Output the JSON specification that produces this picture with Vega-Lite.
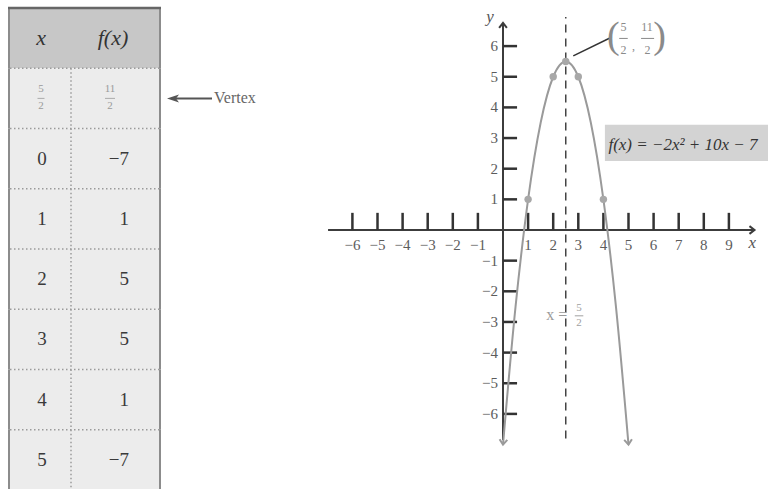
{
  "$schema": "https://vega.github.io/schema/vega-lite/v6.json",
  "padding": 0,
  "spacing": 0,
  "bounds": "flush",
  "background": "white",
  "config": {"view": {"stroke": null}, "text": {"font": "Liberation Serif"}},
  "datasets": {
    "table": [
      {"x": "x", "fx": "f(x)", "kind": "header"},
      {"x": "5/2", "fx": "11/2", "kind": "vertex", "xn": "5", "xd": "2", "fn": "11", "fd": "2"},
      {"x": "0", "fx": "−7", "kind": "value"},
      {"x": "1", "fx": "1", "kind": "value"},
      {"x": "2", "fx": "5", "kind": "value"},
      {"x": "3", "fx": "5", "kind": "value"},
      {"x": "4", "fx": "1", "kind": "value"},
      {"x": "5", "fx": "−7", "kind": "value"}
    ],
    "curve": [
      {"x": 0, "y": -7}, {"x": 0.5, "y": -2.5}, {"x": 1, "y": 1}, {"x": 1.5, "y": 3.5},
      {"x": 2, "y": 5}, {"x": 2.5, "y": 5.5}, {"x": 3, "y": 5}, {"x": 3.5, "y": 3.5},
      {"x": 4, "y": 1}, {"x": 4.5, "y": -2.5}, {"x": 5, "y": -7}
    ],
    "points": [
      {"x": 1, "y": 1}, {"x": 2, "y": 5}, {"x": 2.5, "y": 5.5}, {"x": 3, "y": 5}, {"x": 4, "y": 1}
    ],
    "xticks": [
      {"v": -6}, {"v": -5}, {"v": -4}, {"v": -3}, {"v": -2}, {"v": -1},
      {"v": 1}, {"v": 2}, {"v": 3}, {"v": 4}, {"v": 5}, {"v": 6}, {"v": 7}, {"v": 8}, {"v": 9}
    ],
    "yticks": [
      {"v": -6}, {"v": -5}, {"v": -4}, {"v": -3}, {"v": -2}, {"v": -1},
      {"v": 1}, {"v": 2}, {"v": 3}, {"v": 4}, {"v": 5}, {"v": 6}
    ],
    "notes": [
      {"equation": "f(x) = −2x² + 10x − 7", "vx_num": "5", "vx_den": "2", "vy_num": "11", "vy_den": "2", "xname": "x", "yname": "y", "sym": "x =", "sym_num": "5", "sym_den": "2"}
    ]
  },
  "hconcat": [
    {
      "width": 300,
      "height": 489,
      "data": {"name": "table"},
      "layer": [
        {
          "mark": {"type": "rect"},
          "encoding": {
            "x": {"datum": 9, "type": "quantitative", "scale": {"domain": [0, 300], "nice": false, "zero": false}, "axis": null},
            "x2": {"datum": 160},
            "y": {"field": "x", "type": "nominal", "scale": {"domain": ["x", "5/2", "0", "1", "2", "3", "4", "5"], "range": [8, 490], "paddingInner": 0, "paddingOuter": 0}, "axis": null},
            "color": {"field": "kind", "type": "nominal", "scale": {"domain": ["header", "vertex", "value"], "range": ["#c7c7c7", "#ececec", "#ececec"]}, "legend": null}
          }
        },
        {
          "transform": [{"filter": "datum.kind != 'header'"}],
          "mark": {"type": "rule", "color": "#9a9a9a", "strokeWidth": 1.5, "strokeDash": [1.5, 2.5]},
          "encoding": {
            "x": {"datum": 10, "type": "quantitative", "scale": {"domain": [0, 300], "nice": false, "zero": false}, "axis": null},
            "x2": {"datum": 159},
            "y": {"field": "x", "type": "nominal", "bandPosition": 0, "scale": {"domain": ["x", "5/2", "0", "1", "2", "3", "4", "5"], "range": [8, 490], "paddingInner": 0, "paddingOuter": 0}, "axis": null}
          }
        },
        {
          "transform": [{"filter": "datum.kind != 'header'"}],
          "mark": {"type": "rule", "color": "#9a9a9a", "strokeWidth": 1.5, "strokeDash": [1.5, 2.5]},
          "encoding": {
            "x": {"datum": 71, "type": "quantitative", "scale": {"domain": [0, 300], "nice": false, "zero": false}, "axis": null},
            "y": {"field": "x", "type": "nominal", "bandPosition": 0, "scale": {"domain": ["x", "5/2", "0", "1", "2", "3", "4", "5"], "range": [8, 490], "paddingInner": 0, "paddingOuter": 0}, "axis": null},
            "y2": {"field": "x", "bandPosition": 1}
          }
        },
        {
          "mark": {"type": "rule", "color": "#8c8c8c", "strokeWidth": 2},
          "encoding": {
            "x": {"datum": 9, "type": "quantitative", "scale": {"domain": [0, 300], "nice": false, "zero": false}, "axis": null},
            "y": {"field": "x", "type": "nominal", "bandPosition": 0, "scale": {"domain": ["x", "5/2", "0", "1", "2", "3", "4", "5"], "range": [8, 490], "paddingInner": 0, "paddingOuter": 0}, "axis": null},
            "y2": {"field": "x", "bandPosition": 1}
          }
        },
        {
          "mark": {"type": "rule", "color": "#8c8c8c", "strokeWidth": 2},
          "encoding": {
            "x": {"datum": 160, "type": "quantitative", "scale": {"domain": [0, 300], "nice": false, "zero": false}, "axis": null},
            "y": {"field": "x", "type": "nominal", "bandPosition": 0, "scale": {"domain": ["x", "5/2", "0", "1", "2", "3", "4", "5"], "range": [8, 490], "paddingInner": 0, "paddingOuter": 0}, "axis": null},
            "y2": {"field": "x", "bandPosition": 1}
          }
        },
        {
          "transform": [{"filter": "datum.kind == 'header'"}],
          "mark": {"type": "rule", "color": "#666666", "strokeWidth": 2.5},
          "encoding": {
            "x": {"datum": 8, "type": "quantitative", "scale": {"domain": [0, 300], "nice": false, "zero": false}, "axis": null},
            "x2": {"datum": 161},
            "y": {"field": "x", "type": "nominal", "bandPosition": 0, "scale": {"domain": ["x", "5/2", "0", "1", "2", "3", "4", "5"], "range": [8, 490], "paddingInner": 0, "paddingOuter": 0}, "axis": null}
          }
        },
        {
          "transform": [{"filter": "datum.kind == 'header'"}],
          "mark": {"type": "text", "fontSize": 22, "fontStyle": "italic", "color": "#333333"},
          "encoding": {
            "x": {"datum": 41, "type": "quantitative", "scale": {"domain": [0, 300], "nice": false, "zero": false}, "axis": null},
            "y": {"field": "x", "type": "nominal", "scale": {"domain": ["x", "5/2", "0", "1", "2", "3", "4", "5"], "range": [8, 490], "paddingInner": 0, "paddingOuter": 0}, "axis": null},
            "text": {"field": "x"}
          }
        },
        {
          "transform": [{"filter": "datum.kind == 'header'"}],
          "mark": {"type": "text", "fontSize": 22, "fontStyle": "italic", "color": "#333333"},
          "encoding": {
            "x": {"datum": 113, "type": "quantitative", "scale": {"domain": [0, 300], "nice": false, "zero": false}, "axis": null},
            "y": {"field": "x", "type": "nominal", "scale": {"domain": ["x", "5/2", "0", "1", "2", "3", "4", "5"], "range": [8, 490], "paddingInner": 0, "paddingOuter": 0}, "axis": null},
            "text": {"field": "fx"}
          }
        },
        {
          "transform": [{"filter": "datum.kind == 'value'"}],
          "mark": {"type": "text", "fontSize": 19, "color": "#3a3a3a"},
          "encoding": {
            "x": {"datum": 42, "type": "quantitative", "scale": {"domain": [0, 300], "nice": false, "zero": false}, "axis": null},
            "y": {"field": "x", "type": "nominal", "scale": {"domain": ["x", "5/2", "0", "1", "2", "3", "4", "5"], "range": [8, 490], "paddingInner": 0, "paddingOuter": 0}, "axis": null},
            "text": {"field": "x"}
          }
        },
        {
          "transform": [{"filter": "datum.kind == 'value'"}],
          "mark": {"type": "text", "fontSize": 19, "color": "#3a3a3a", "align": "right"},
          "encoding": {
            "x": {"datum": 129, "type": "quantitative", "scale": {"domain": [0, 300], "nice": false, "zero": false}, "axis": null},
            "y": {"field": "x", "type": "nominal", "scale": {"domain": ["x", "5/2", "0", "1", "2", "3", "4", "5"], "range": [8, 490], "paddingInner": 0, "paddingOuter": 0}, "axis": null},
            "text": {"field": "fx"}
          }
        },
        {
          "transform": [{"filter": "datum.kind == 'vertex'"}],
          "mark": {"type": "text", "fontSize": 11, "color": "#9a9a9a", "dy": -9},
          "encoding": {
            "x": {"datum": 41, "type": "quantitative", "scale": {"domain": [0, 300], "nice": false, "zero": false}, "axis": null},
            "y": {"field": "x", "type": "nominal", "scale": {"domain": ["x", "5/2", "0", "1", "2", "3", "4", "5"], "range": [8, 490], "paddingInner": 0, "paddingOuter": 0}, "axis": null},
            "text": {"field": "xn"}
          }
        },
        {
          "transform": [{"filter": "datum.kind == 'vertex'"}],
          "mark": {"type": "text", "fontSize": 11, "color": "#9a9a9a", "dy": 8},
          "encoding": {
            "x": {"datum": 41, "type": "quantitative", "scale": {"domain": [0, 300], "nice": false, "zero": false}, "axis": null},
            "y": {"field": "x", "type": "nominal", "scale": {"domain": ["x", "5/2", "0", "1", "2", "3", "4", "5"], "range": [8, 490], "paddingInner": 0, "paddingOuter": 0}, "axis": null},
            "text": {"field": "xd"}
          }
        },
        {
          "transform": [{"filter": "datum.kind == 'vertex'"}],
          "mark": {"type": "text", "fontSize": 11, "color": "#9a9a9a", "dy": -9},
          "encoding": {
            "x": {"datum": 110, "type": "quantitative", "scale": {"domain": [0, 300], "nice": false, "zero": false}, "axis": null},
            "y": {"field": "x", "type": "nominal", "scale": {"domain": ["x", "5/2", "0", "1", "2", "3", "4", "5"], "range": [8, 490], "paddingInner": 0, "paddingOuter": 0}, "axis": null},
            "text": {"field": "fn"}
          }
        },
        {
          "transform": [{"filter": "datum.kind == 'vertex'"}],
          "mark": {"type": "text", "fontSize": 11, "color": "#9a9a9a", "dy": 8},
          "encoding": {
            "x": {"datum": 110, "type": "quantitative", "scale": {"domain": [0, 300], "nice": false, "zero": false}, "axis": null},
            "y": {"field": "x", "type": "nominal", "scale": {"domain": ["x", "5/2", "0", "1", "2", "3", "4", "5"], "range": [8, 490], "paddingInner": 0, "paddingOuter": 0}, "axis": null},
            "text": {"field": "fd"}
          }
        },
        {
          "transform": [{"filter": "datum.kind == 'vertex'"}],
          "mark": {"type": "rule", "color": "#aaaaaa", "strokeWidth": 1},
          "encoding": {
            "x": {"datum": 37.5, "type": "quantitative", "scale": {"domain": [0, 300], "nice": false, "zero": false}, "axis": null},
            "x2": {"datum": 44.5},
            "y": {"field": "x", "type": "nominal", "bandPosition": 0.5, "scale": {"domain": ["x", "5/2", "0", "1", "2", "3", "4", "5"], "range": [8, 490], "paddingInner": 0, "paddingOuter": 0}, "axis": null}
          }
        },
        {
          "transform": [{"filter": "datum.kind == 'vertex'"}],
          "mark": {"type": "rule", "color": "#aaaaaa", "strokeWidth": 1},
          "encoding": {
            "x": {"datum": 105, "type": "quantitative", "scale": {"domain": [0, 300], "nice": false, "zero": false}, "axis": null},
            "x2": {"datum": 115},
            "y": {"field": "x", "type": "nominal", "bandPosition": 0.5, "scale": {"domain": ["x", "5/2", "0", "1", "2", "3", "4", "5"], "range": [8, 490], "paddingInner": 0, "paddingOuter": 0}, "axis": null}
          }
        },
        {
          "transform": [{"filter": "datum.kind == 'vertex'"}],
          "mark": {"type": "rule", "color": "#555555", "strokeWidth": 2},
          "encoding": {
            "x": {"datum": 174, "type": "quantitative", "scale": {"domain": [0, 300], "nice": false, "zero": false}, "axis": null},
            "x2": {"datum": 212},
            "y": {"field": "x", "type": "nominal", "bandPosition": 0.5, "scale": {"domain": ["x", "5/2", "0", "1", "2", "3", "4", "5"], "range": [8, 490], "paddingInner": 0, "paddingOuter": 0}, "axis": null}
          }
        },
        {
          "transform": [{"filter": "datum.kind == 'vertex'"}],
          "mark": {"type": "point", "shape": "M 1.2 -0.8 L -1.2 0 L 1.2 0.8 L 0.6 0 Z", "filled": true, "color": "#555555", "size": 100, "opacity": 1},
          "encoding": {
            "x": {"datum": 173, "type": "quantitative", "scale": {"domain": [0, 300], "nice": false, "zero": false}, "axis": null},
            "y": {"field": "x", "type": "nominal", "scale": {"domain": ["x", "5/2", "0", "1", "2", "3", "4", "5"], "range": [8, 490], "paddingInner": 0, "paddingOuter": 0}, "axis": null}
          }
        },
        {
          "transform": [{"filter": "datum.kind == 'vertex'"}],
          "mark": {"type": "text", "fontSize": 16, "color": "#666666", "align": "left"},
          "encoding": {
            "x": {"datum": 214, "type": "quantitative", "scale": {"domain": [0, 300], "nice": false, "zero": false}, "axis": null},
            "y": {"field": "x", "type": "nominal", "scale": {"domain": ["x", "5/2", "0", "1", "2", "3", "4", "5"], "range": [8, 490], "paddingInner": 0, "paddingOuter": 0}, "axis": null},
            "text": {"value": "Vertex"}
          }
        }
      ]
    },
    {
      "width": 468,
      "height": 489,
      "data": {"name": "notes"},
      "layer": [
        {
          "mark": {"type": "rect", "color": "#d3d3d3"},
          "encoding": {
            "x": {"datum": 4.06, "type": "quantitative", "scale": {"domain": [-8.088, 10.558], "nice": false, "zero": false}, "axis": null},
            "x2": {"datum": 10.558},
            "y": {"datum": 3.43, "type": "quantitative", "scale": {"domain": [-8.45, 7.504], "nice": false, "zero": false}, "axis": null},
            "y2": {"datum": 2.25}
          }
        },
        {
          "mark": {"type": "text", "align": "left", "fontSize": 17, "fontStyle": "italic", "color": "#333333"},
          "encoding": {
            "x": {"datum": 4.2, "type": "quantitative"},
            "y": {"datum": 2.76, "type": "quantitative"},
            "text": {"field": "equation"}
          }
        },
        {
          "mark": {"type": "rule", "color": "#3c3c3c", "strokeWidth": 2},
          "encoding": {
            "x": {"datum": -6.97, "type": "quantitative"},
            "x2": {"datum": 9.98},
            "y": {"datum": 0, "type": "quantitative"}
          }
        },
        {
          "mark": {"type": "rule", "color": "#3c3c3c", "strokeWidth": 2},
          "encoding": {
            "x": {"datum": 0, "type": "quantitative"},
            "y": {"datum": -6.85, "type": "quantitative"},
            "y2": {"datum": 6.72}
          }
        },
        {
          "mark": {"type": "point", "shape": "M -1.3 -1 L 0 0 L -1.3 1", "filled": false, "color": "#3c3c3c", "strokeWidth": 2, "size": 60, "opacity": 1},
          "encoding": {
            "x": {"datum": 10.02, "type": "quantitative"},
            "y": {"datum": 0, "type": "quantitative"}
          }
        },
        {
          "mark": {"type": "point", "shape": "M -1 1.3 L 0 0 L 1 1.3", "filled": false, "color": "#3c3c3c", "strokeWidth": 2, "size": 60, "opacity": 1},
          "encoding": {
            "x": {"datum": 0, "type": "quantitative"},
            "y": {"datum": 6.76, "type": "quantitative"}
          }
        },
        {
          "data": {"name": "xticks"},
          "mark": {"type": "rule", "color": "#333333", "strokeWidth": 2.5},
          "encoding": {
            "x": {"field": "v", "type": "quantitative"},
            "y": {"datum": 0, "type": "quantitative"},
            "y2": {"datum": 0.56}
          }
        },
        {
          "data": {"name": "yticks"},
          "mark": {"type": "rule", "color": "#333333", "strokeWidth": 2.5},
          "encoding": {
            "y": {"field": "v", "type": "quantitative"},
            "x": {"datum": 0, "type": "quantitative"},
            "x2": {"datum": 0.56}
          }
        },
        {
          "data": {"name": "xticks"},
          "mark": {"type": "text", "fontSize": 15, "color": "#5c5c5c"},
          "encoding": {
            "x": {"field": "v", "type": "quantitative"},
            "y": {"datum": -0.5, "type": "quantitative"},
            "text": {"field": "v", "type": "quantitative", "format": "d"}
          }
        },
        {
          "data": {"name": "yticks"},
          "mark": {"type": "text", "fontSize": 15, "color": "#5c5c5c", "align": "right"},
          "encoding": {
            "y": {"field": "v", "type": "quantitative"},
            "x": {"datum": -0.2, "type": "quantitative"},
            "text": {"field": "v", "type": "quantitative", "format": "d"}
          }
        },
        {
          "mark": {"type": "text", "fontSize": 17, "fontStyle": "italic", "color": "#555555"},
          "encoding": {
            "x": {"datum": -0.52, "type": "quantitative"},
            "y": {"datum": 6.95, "type": "quantitative"},
            "text": {"field": "yname"}
          }
        },
        {
          "mark": {"type": "text", "fontSize": 17, "fontStyle": "italic", "color": "#555555"},
          "encoding": {
            "x": {"datum": 9.93, "type": "quantitative"},
            "y": {"datum": -0.44, "type": "quantitative"},
            "text": {"field": "xname"}
          }
        },
        {
          "mark": {"type": "rule", "color": "#444444", "strokeWidth": 1.5, "strokeDash": [8, 6]},
          "encoding": {
            "x": {"datum": 2.5, "type": "quantitative"},
            "y": {"datum": -6.8, "type": "quantitative"},
            "y2": {"datum": 6.95}
          }
        },
        {
          "data": {"name": "curve"},
          "mark": {"type": "line", "color": "#9a9a9a", "strokeWidth": 2, "interpolate": "monotone"},
          "encoding": {
            "x": {"field": "x", "type": "quantitative"},
            "y": {"field": "y", "type": "quantitative"}
          }
        },
        {
          "data": {"name": "points"},
          "mark": {"type": "circle", "color": "#a8a8a8", "size": 55, "opacity": 1},
          "encoding": {
            "x": {"field": "x", "type": "quantitative"},
            "y": {"field": "y", "type": "quantitative"}
          }
        },
        {
          "data": {"name": "curve"},
          "transform": [{"filter": "datum.x == 0"}],
          "mark": {"type": "point", "shape": "M -1 -1.3 L 0 0 L 1 -1.3", "filled": false, "color": "#9a9a9a", "strokeWidth": 2, "size": 60, "opacity": 1, "angle": 5},
          "encoding": {
            "x": {"field": "x", "type": "quantitative"},
            "y": {"field": "y", "type": "quantitative"}
          }
        },
        {
          "data": {"name": "curve"},
          "transform": [{"filter": "datum.x == 5"}],
          "mark": {"type": "point", "shape": "M -1 -1.3 L 0 0 L 1 -1.3", "filled": false, "color": "#9a9a9a", "strokeWidth": 2, "size": 60, "opacity": 1, "angle": -5},
          "encoding": {
            "x": {"field": "x", "type": "quantitative"},
            "y": {"field": "y", "type": "quantitative"}
          }
        },
        {
          "mark": {"type": "rule", "color": "#333333", "strokeWidth": 1.5},
          "encoding": {
            "x": {"datum": 2.8, "type": "quantitative"},
            "x2": {"datum": 4.3},
            "y": {"datum": 5.68, "type": "quantitative"},
            "y2": {"datum": 6.28}
          }
        },
        {
          "mark": {"type": "text", "fontSize": 38, "color": "#8a8a8a"},
          "encoding": {
            "x": {"datum": 4.4, "type": "quantitative"},
            "y": {"datum": 6.3, "type": "quantitative"},
            "text": {"value": "("}
          }
        },
        {
          "mark": {"type": "text", "fontSize": 38, "color": "#8a8a8a"},
          "encoding": {
            "x": {"datum": 6.24, "type": "quantitative"},
            "y": {"datum": 6.3, "type": "quantitative"},
            "text": {"value": ")"}
          }
        },
        {
          "mark": {"type": "text", "fontSize": 12, "color": "#8a8a8a"},
          "encoding": {
            "x": {"datum": 4.8, "type": "quantitative"},
            "y": {"datum": 6.62, "type": "quantitative"},
            "text": {"field": "vx_num"}
          }
        },
        {
          "mark": {"type": "text", "fontSize": 12, "color": "#8a8a8a"},
          "encoding": {
            "x": {"datum": 4.8, "type": "quantitative"},
            "y": {"datum": 5.88, "type": "quantitative"},
            "text": {"field": "vx_den"}
          }
        },
        {
          "mark": {"type": "rule", "color": "#8a8a8a", "strokeWidth": 1},
          "encoding": {
            "x": {"datum": 4.63, "type": "quantitative"},
            "x2": {"datum": 4.97},
            "y": {"datum": 6.25, "type": "quantitative"}
          }
        },
        {
          "mark": {"type": "text", "fontSize": 12, "color": "#8a8a8a"},
          "encoding": {
            "x": {"datum": 5.2, "type": "quantitative"},
            "y": {"datum": 6.0, "type": "quantitative"},
            "text": {"value": ","}
          }
        },
        {
          "mark": {"type": "text", "fontSize": 12, "color": "#8a8a8a"},
          "encoding": {
            "x": {"datum": 5.74, "type": "quantitative"},
            "y": {"datum": 6.62, "type": "quantitative"},
            "text": {"field": "vy_num"}
          }
        },
        {
          "mark": {"type": "text", "fontSize": 12, "color": "#8a8a8a"},
          "encoding": {
            "x": {"datum": 5.76, "type": "quantitative"},
            "y": {"datum": 5.88, "type": "quantitative"},
            "text": {"field": "vy_den"}
          }
        },
        {
          "mark": {"type": "rule", "color": "#8a8a8a", "strokeWidth": 1},
          "encoding": {
            "x": {"datum": 5.5, "type": "quantitative"},
            "x2": {"datum": 6.02},
            "y": {"datum": 6.25, "type": "quantitative"}
          }
        },
        {
          "mark": {"type": "text", "fontSize": 16, "color": "#9a9a9a"},
          "encoding": {
            "x": {"datum": 2.14, "type": "quantitative"},
            "y": {"datum": -2.77, "type": "quantitative"},
            "text": {"field": "sym"}
          }
        },
        {
          "mark": {"type": "text", "fontSize": 11, "color": "#a0a0a0"},
          "encoding": {
            "x": {"datum": 3.03, "type": "quantitative"},
            "y": {"datum": -2.53, "type": "quantitative"},
            "text": {"field": "sym_num"}
          }
        },
        {
          "mark": {"type": "text", "fontSize": 11, "color": "#a0a0a0"},
          "encoding": {
            "x": {"datum": 3.03, "type": "quantitative"},
            "y": {"datum": -3.04, "type": "quantitative"},
            "text": {"field": "sym_den"}
          }
        },
        {
          "mark": {"type": "rule", "color": "#a0a0a0", "strokeWidth": 1},
          "encoding": {
            "x": {"datum": 2.86, "type": "quantitative"},
            "x2": {"datum": 3.2},
            "y": {"datum": -2.8, "type": "quantitative"}
          }
        }
      ]
    }
  ]
}
